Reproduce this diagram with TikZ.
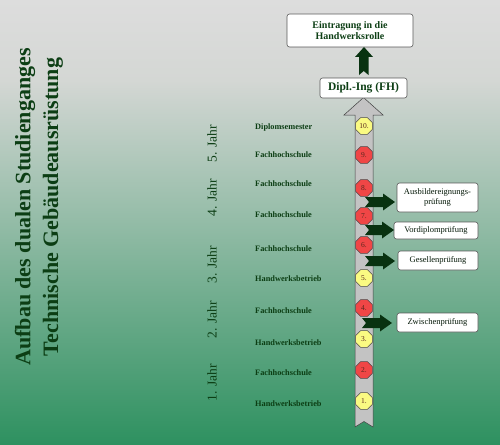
\documentclass[tikz,border=0pt]{standalone}
\usepackage{fontspec}
\setmainfont{Liberation Serif}
\usetikzlibrary{shapes.geometric}
\definecolor{dg}{RGB}{12,62,20}
\definecolor{arrowg}{RGB}{8,50,16}
\definecolor{bgtop}{RGB}{221,221,221}
\definecolor{bgmid}{RGB}{212,215,212}
\definecolor{bgbot}{RGB}{46,145,96}
\definecolor{redo}{RGB}{240,70,70}
\definecolor{yelo}{RGB}{250,250,130}
\definecolor{shaft}{RGB}{195,195,195}
\definecolor{octtxt}{RGB}{90,40,30}
\tikzset{
  title/.style={font=\fontsize{22}{26}\selectfont\bfseries, text=dg, rotate=90, align=center},
  year/.style={font=\fontsize{13.5}{16}\selectfont, text=dg, rotate=90},
  lbl/.style={font=\fontsize{8.3}{10}\selectfont\bfseries, text=dg, anchor=west, inner sep=0pt},
  oct/.style={regular polygon, regular polygon sides=8, minimum size=18pt, inner sep=0pt, draw=gray!60!black, line width=0.4pt, font=\fontsize{7.5}{8}\selectfont, text=octtxt},
  oy/.style={oct, fill=yelo},
  orr/.style={oct, fill=redo},
  wbox/.style={draw=gray!70!black, fill=white, rounded corners=2.5pt, line width=0.6pt, align=center, inner sep=0pt},
  rbox/.style={wbox, font=\fontsize{8.5}{10.5}\selectfont, text=black!60!dg},
  garrow/.style={fill=arrowg, draw=none}
}
\begin{document}
\begin{tikzpicture}[x=1pt,y=-1pt]
\useasboundingbox (0,0) rectangle (500,444);
\shade[top color=bgtop, bottom color=bgmid] (0,0) rectangle (500,80.5);
\shade[top color=bgmid, bottom color=bgbot] (0,80) rectangle (500,444);

% title
\node[title] (t1) at (25,207) {Aufbau des dualen Studienganges};
\node[title] (t2) at (53,207) {Technische Gebäudeausrüstung};

% years
\node[year] (y5) at (212,144) {5. Jahr};
\node[year] (y4) at (212,198) {4. Jahr};
\node[year] (y3) at (212,265) {3. Jahr};
\node[year] (y2) at (212,320) {2. Jahr};
\node[year] (y1) at (212,383) {1. Jahr};

% main gray arrow
\filldraw[fill=shaft, draw=gray!50!black, line width=0.5pt]
  (355,427) -- (355,115) -- (344,115) -- (363.5,97.5) -- (383,115) -- (373,115) -- (373,427) -- (364,421.5) -- cycle;

% labels
\node[lbl] (l10) at (255,128) {Diplomsemester};
\node[lbl] (l9) at (255,155) {Fachhochschule};
\node[lbl] (l8) at (255,184) {Fachhochschule};
\node[lbl] (l7) at (255,215) {Fachhochschule};
\node[lbl] (l6) at (255,249) {Fachhochschule};
\node[lbl] (l5) at (255,279) {Handwerksbetrieb};
\node[lbl] (l4) at (255,311) {Fachhochschule};
\node[lbl] (l3) at (255,343) {Handwerksbetrieb};
\node[lbl] (l2) at (255,373) {Fachhochschule};
\node[lbl] (l1) at (255,404) {Handwerksbetrieb};

% octagons
\node[oy] (o10) at (364,126) {10.};
\node[orr] (o9) at (364,155) {9.};
\node[orr] (o8) at (364,188) {8.};
\node[orr] (o7) at (364,216) {7.};
\node[orr] (o6) at (364,245) {6.};
\node[oy] (o5) at (364,278) {5.};
\node[orr] (o4) at (364,308) {4.};
\node[oy] (o3) at (364,339) {3.};
\node[orr] (o2) at (364,370) {2.};
\node[oy] (o1) at (364,401) {1.};

% top boxes
\node[wbox, minimum width=126pt, minimum height=33pt, font=\fontsize{10}{11.5}\selectfont\bfseries, text=dg] (eintr) at (350,30.5) {Eintragung in die\\Handwerksrolle};
\node[wbox, minimum width=87pt, minimum height=20pt, font=\fontsize{11.5}{13}\selectfont\bfseries, text=dg] (dipl) at (363.5,88) {Dipl.-Ing (FH)};

% up arrow between dipl and eintr
\fill[garrow] (359,75) -- (359,57) -- (355,57) -- (364,47) -- (373,57) -- (368.5,57) -- (368.5,75) -- (363.75,71) -- cycle;

% right boxes
\node[rbox, minimum width=81pt, minimum height=29pt] (ausb) at (437.5,197.5) {Ausbildereignungs-\\prüfung};
\node[rbox, minimum width=84pt, minimum height=17pt] (vord) at (436,230.5) {Vordiplomprüfung};
\node[rbox, minimum width=80pt, minimum height=19pt] (gese) at (438,260.5) {Gesellenprüfung};
\node[rbox, minimum width=81pt, minimum height=19pt] (zwis) at (437.5,322.5) {Zwischenprüfung};

% right arrows
\fill[garrow] (365,197) -- (383,197) -- (383,193.5) -- (395,202) -- (383,210.5) -- (383,207) -- (365,207) -- (369,202) -- cycle;
\fill[garrow] (365,225) -- (382,225) -- (382,221.5) -- (394,230) -- (382,238.5) -- (382,235) -- (365,235) -- (369,230) -- cycle;
\fill[garrow] (365,256) -- (383,256) -- (383,252.5) -- (395,261) -- (383,269.5) -- (383,266) -- (365,266) -- (369,261) -- cycle;
\fill[garrow] (362,318) -- (380,318) -- (380,314.5) -- (392,323) -- (380,331.5) -- (380,328) -- (362,328) -- (366,323) -- cycle;
\end{tikzpicture}
\end{document}
